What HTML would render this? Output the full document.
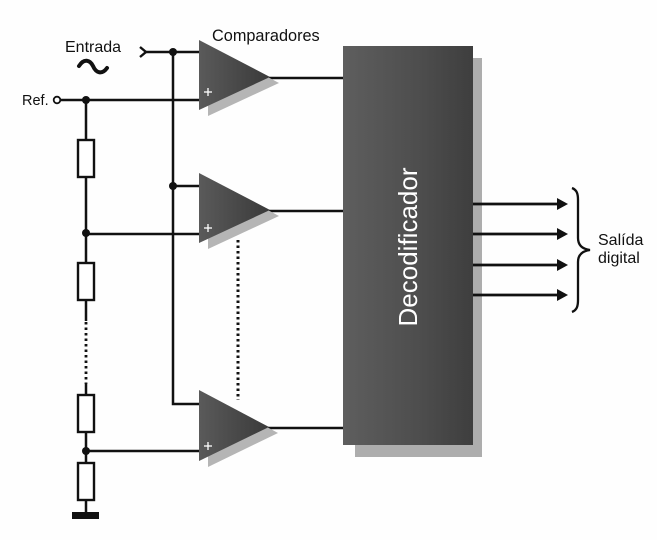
<!DOCTYPE html>
<html>
<head>
<meta charset="utf-8">
<style>
  html,body{margin:0;padding:0;background:#fff;}
  body{width:657px;height:540px;overflow:hidden;}
  svg{display:block;}
  text{font-family:"Liberation Sans",Arial,sans-serif;}
</style>
</head>
<body>
<svg width="657" height="540" viewBox="0 0 657 540" xmlns="http://www.w3.org/2000/svg">
  <defs>
    <linearGradient id="dec" x1="0" y1="0" x2="1" y2="0">
      <stop offset="0" stop-color="#5e5e5e"/>
      <stop offset="0.6" stop-color="#4d4d4d"/>
      <stop offset="1" stop-color="#3e3e3e"/>
    </linearGradient>
    <linearGradient id="cmp" x1="0" y1="0" x2="1" y2="0">
      <stop offset="0" stop-color="#5a5a5a"/>
      <stop offset="1" stop-color="#3a3a3a"/>
    </linearGradient>
  </defs>
  <rect width="657" height="540" fill="#fefefe"/>

  <!-- Labels -->
  <text x="212" y="41" font-size="16.3" fill="#111">Comparadores</text>
  <text x="65" y="52" font-size="16" fill="#111">Entrada</text>
  <text x="22" y="105" font-size="14.5" fill="#111">Ref.</text>
  <!-- tilde -->
  <path d="M79,66 C84,58 90,60 93,66 C96,73 102,75 107,68" fill="none" stroke="#111" stroke-width="4" stroke-linecap="round"/>

  <!-- Entrada input -->
  <path d="M140,47 L146,52 L140,57" fill="none" stroke="#111" stroke-width="2.4"/>
  <line x1="144" y1="52" x2="200" y2="52" stroke="#111" stroke-width="2.5"/>
  <!-- vertical input bus -->
  <polyline points="173,52 173,404 200,404" fill="none" stroke="#111" stroke-width="2.5"/>
  <line x1="173" y1="186" x2="200" y2="186" stroke="#111" stroke-width="2.5"/>
  <circle cx="173" cy="52" r="4" fill="#111"/>
  <circle cx="173" cy="186" r="4" fill="#111"/>

  <!-- Ref line -->
  <circle cx="57" cy="100" r="3.3" fill="#fff" stroke="#111" stroke-width="1.8"/>
  <line x1="60" y1="100" x2="200" y2="100" stroke="#111" stroke-width="2.5"/>
  <circle cx="86" cy="100" r="4" fill="#111"/>

  <!-- resistor ladder -->
  <line x1="86" y1="100" x2="86" y2="321" stroke="#111" stroke-width="2.5"/>
  <line x1="86" y1="322" x2="86" y2="384" stroke="#111" stroke-width="2.8" stroke-dasharray="2.5,3"/>
  <line x1="86" y1="384" x2="86" y2="512" stroke="#111" stroke-width="2.5"/>
  <rect x="78" y="140" width="16" height="37" fill="#fff" stroke="#111" stroke-width="2.4"/>
  <rect x="78" y="263" width="16" height="37" fill="#fff" stroke="#111" stroke-width="2.4"/>
  <rect x="78" y="395" width="16" height="37" fill="#fff" stroke="#111" stroke-width="2.4"/>
  <rect x="78" y="463" width="16" height="37" fill="#fff" stroke="#111" stroke-width="2.4"/>
  <circle cx="86" cy="233" r="4" fill="#111"/>
  <circle cx="86" cy="451" r="4" fill="#111"/>
  <line x1="86" y1="234" x2="200" y2="234" stroke="#111" stroke-width="2.5"/>
  <line x1="86" y1="451" x2="200" y2="451" stroke="#111" stroke-width="2.5"/>
  <!-- ground -->
  <rect x="72" y="512" width="27" height="7" fill="#111"/>

  <!-- dotted between comparators -->
  <line x1="238" y1="240" x2="238" y2="400" stroke="#111" stroke-width="3" stroke-dasharray="2.5,3"/>

  <!-- comparator outputs -->
  <line x1="268" y1="78" x2="344" y2="78" stroke="#111" stroke-width="2.5"/>
  <line x1="268" y1="211" x2="344" y2="211" stroke="#111" stroke-width="2.5"/>
  <line x1="268" y1="428" x2="344" y2="428" stroke="#111" stroke-width="2.5"/>

  <!-- comparators: shadow then body -->
  <polygon points="208,45 208,116 279,83" fill="#b5b5b5"/>
  <polygon points="199,40 199,110 270,77" fill="url(#cmp)"/>
  <polygon points="208,178 208,249 279,216" fill="#b5b5b5"/>
  <polygon points="199,173 199,243 270,210" fill="url(#cmp)"/>
  <polygon points="208,395 208,467 278,433" fill="#b5b5b5"/>
  <polygon points="199,390 199,461 269,427" fill="url(#cmp)"/>
  <!-- plus signs -->
  <g stroke="#fff" stroke-width="1.3">
    <line x1="204" y1="92" x2="212" y2="92"/><line x1="208" y1="88" x2="208" y2="96"/>
    <line x1="204" y1="228" x2="212" y2="228"/><line x1="208" y1="224" x2="208" y2="232"/>
    <line x1="204" y1="446" x2="212" y2="446"/><line x1="208" y1="442" x2="208" y2="450"/>
  </g>

  <!-- decoder -->
  <rect x="355" y="58" width="127" height="399" fill="#adadad"/>
  <rect x="343" y="46" width="130" height="399" fill="url(#dec)"/>
  <text x="0" y="0" font-size="26" fill="#fff" text-anchor="middle" transform="translate(417,247) rotate(-90)">Decodificador</text>

  <!-- outputs -->
  <g stroke="#111" stroke-width="2.8">
    <line x1="473" y1="204" x2="560" y2="204"/>
    <line x1="473" y1="234" x2="560" y2="234"/>
    <line x1="473" y1="265" x2="560" y2="265"/>
    <line x1="473" y1="295" x2="560" y2="295"/>
  </g>
  <g fill="#111">
    <polygon points="557,198 568,204 557,210"/>
    <polygon points="557,228 568,234 557,240"/>
    <polygon points="557,259 568,265 557,271"/>
    <polygon points="557,289 568,295 557,301"/>
  </g>
  <!-- brace -->
  <path d="M572,188 C577,190 578,194 578,200 L578,238 C578,245 582,249 590,250 C582,251 578,255 578,262 L578,300 C578,306 577,310 572,312" fill="none" stroke="#111" stroke-width="2.3"/>
  <text x="598" y="245" font-size="16" fill="#111">Salída</text>
  <text x="598" y="263" font-size="16" fill="#111">digital</text>
</svg>
</body>
</html>
